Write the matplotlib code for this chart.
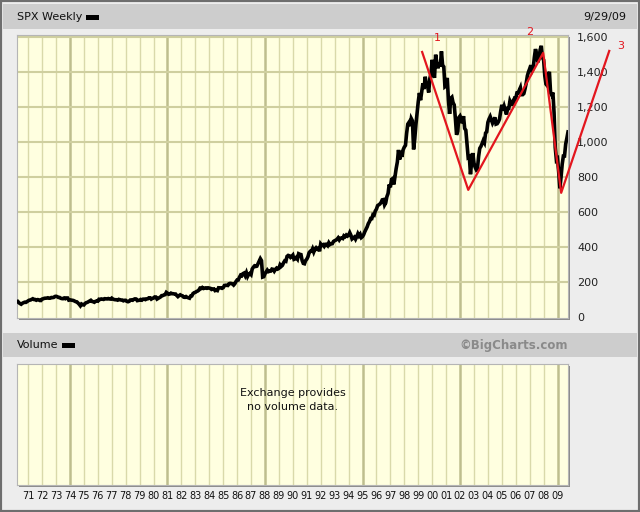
"""
SPX 周线图（BigCharts 风格）重绘
"""

import matplotlib
matplotlib.use('Agg')
import matplotlib.pyplot as plt
from matplotlib.patches import Rectangle
import numpy as np

plt.rcParams['font.family'] = ['DejaVu Sans']

W, H = 640, 512

# S&P 500 月末收盘 1970-01 .. 2009-09
spx_close = [
    85.0, 89.5, 89.6, 81.5, 76.5, 72.7, 78.0, 81.5, 84.2, 83.3, 87.2, 92.2,          # 1970
    95.9, 96.8, 100.3, 103.9, 99.6, 99.7, 95.6, 99.0, 98.3, 94.2, 94.0, 102.1,       # 1971
    103.9, 106.6, 107.2, 107.7, 109.5, 107.1, 107.4, 111.1, 110.5, 111.6, 116.7, 118.1,  # 1972
    116.0, 111.7, 111.5, 107.0, 105.0, 104.3, 108.2, 104.3, 108.4, 108.3, 96.0, 97.6,    # 1973
    96.6, 96.2, 94.0, 90.3, 87.3, 86.0, 79.3, 72.2, 63.5, 73.9, 70.0, 68.6,          # 1974
    77.0, 81.6, 83.4, 87.3, 91.2, 95.2, 88.8, 86.9, 83.9, 89.0, 91.2, 90.2,          # 1975
    100.9, 99.7, 102.8, 101.6, 100.2, 104.3, 103.4, 102.9, 105.2, 102.9, 102.1, 107.5,   # 1976
    102.0, 99.8, 98.4, 98.4, 96.1, 100.5, 98.9, 96.8, 96.5, 92.3, 94.8, 95.1,        # 1977
    89.3, 87.0, 89.2, 96.8, 97.3, 95.5, 100.7, 103.3, 102.5, 93.2, 94.7, 96.1,       # 1978
    99.9, 96.3, 101.6, 101.8, 99.1, 102.9, 103.8, 109.3, 109.3, 101.8, 106.2, 107.9,     # 1979
    114.2, 113.7, 102.1, 106.3, 111.2, 114.2, 121.7, 122.4, 125.5, 127.5, 140.5, 135.8,  # 1980
    129.6, 131.3, 136.0, 132.8, 132.6, 131.2, 130.9, 122.8, 116.2, 121.9, 126.4, 122.6,  # 1981
    120.4, 113.1, 112.0, 116.4, 111.9, 109.6, 107.1, 119.5, 120.4, 133.7, 138.5, 140.6,  # 1982
    145.3, 148.1, 153.0, 164.4, 162.4, 168.1, 162.6, 164.4, 166.1, 163.6, 166.4, 164.9,  # 1983
    163.4, 157.1, 159.2, 160.1, 150.6, 153.2, 150.7, 166.7, 166.1, 166.1, 163.6, 167.2,  # 1984
    179.6, 181.2, 180.7, 179.8, 189.6, 191.9, 190.9, 188.6, 182.1, 189.8, 202.2, 211.3,  # 1985
    211.8, 226.9, 238.9, 235.5, 247.4, 250.8, 236.1, 252.9, 231.3, 244.0, 249.2, 242.2,  # 1986
    274.1, 284.2, 291.7, 288.4, 290.1, 304.0, 318.7, 333.0, 321.8, 228.0, 230.3, 247.1,  # 1987
    257.1, 267.8, 258.9, 261.3, 262.2, 273.5, 272.0, 261.5, 271.9, 279.0, 273.7, 277.7,  # 1988
    297.5, 288.9, 294.9, 309.6, 320.5, 318.0, 346.1, 351.5, 349.2, 340.4, 346.0, 353.4,  # 1989
    329.1, 331.9, 339.9, 330.8, 361.2, 358.0, 356.2, 322.6, 306.1, 304.0, 322.2, 330.2,  # 1990
    343.9, 367.1, 375.2, 375.3, 389.8, 371.2, 387.8, 395.4, 387.9, 392.5, 375.2, 417.1,  # 1991
    408.8, 412.7, 403.7, 415.0, 415.4, 408.1, 424.2, 414.0, 417.8, 418.7, 431.4, 435.7,  # 1992
    438.8, 443.4, 451.7, 440.2, 450.2, 450.5, 448.1, 463.6, 458.9, 467.8, 461.8, 466.5,  # 1993
    481.6, 467.1, 445.8, 450.9, 456.5, 444.3, 458.3, 475.5, 462.7, 472.4, 453.7, 459.3,  # 1994
    470.4, 487.4, 500.7, 514.7, 533.4, 544.8, 562.1, 561.9, 584.4, 581.5, 605.4, 615.9,  # 1995
    636.0, 640.4, 645.5, 654.2, 669.1, 670.6, 640.0, 652.0, 687.3, 705.3, 757.0, 740.7,  # 1996
    786.2, 790.8, 757.1, 801.3, 848.3, 885.1, 954.3, 899.5, 947.3, 914.6, 955.4, 970.4,  # 1997
    980.3, 1049.3, 1101.8, 1111.8, 1090.8, 1133.8, 1120.7, 957.3, 1017.0, 1098.7, 1163.6, 1229.2,  # 1998
    1279.6, 1238.3, 1286.4, 1335.2, 1301.8, 1372.7, 1328.7, 1320.4, 1282.7, 1362.9, 1388.9, 1469.3,  # 1999
    1394.5, 1366.4, 1498.6, 1452.4, 1420.6, 1454.6, 1430.8, 1517.7, 1436.5, 1429.4, 1315.2, 1320.3,  # 2000
    1366.0, 1239.9, 1160.3, 1249.5, 1255.8, 1224.4, 1211.2, 1133.6, 1040.9, 1059.8, 1139.5, 1148.1,  # 2001
    1130.2, 1106.7, 1147.4, 1076.9, 1067.1, 989.8, 911.6, 916.1, 815.3, 885.8, 936.3, 879.8,        # 2002
    855.7, 841.2, 848.2, 916.9, 963.6, 974.5, 990.3, 1008.0, 996.0, 1050.7, 1058.2, 1111.9,         # 2003
    1131.1, 1144.9, 1126.2, 1107.3, 1120.7, 1140.8, 1101.7, 1104.2, 1114.6, 1130.2, 1173.8, 1211.9,  # 2004
    1181.3, 1203.6, 1180.6, 1156.9, 1191.5, 1191.3, 1234.2, 1220.3, 1228.8, 1207.0, 1249.5, 1248.3,  # 2005
    1280.1, 1280.7, 1294.9, 1310.6, 1270.1, 1270.2, 1276.7, 1303.8, 1335.9, 1377.9, 1400.6, 1418.3,  # 2006
    1438.2, 1406.8, 1420.9, 1482.4, 1530.6, 1503.4, 1455.3, 1474.0, 1526.8, 1549.4, 1481.1, 1468.4,  # 2007
    1378.6, 1330.6, 1322.7, 1385.6, 1400.4, 1280.0, 1267.4, 1282.8, 1166.4, 968.8, 896.2, 903.3,     # 2008
    825.9, 735.1, 797.9, 872.8, 919.1, 919.3, 987.5, 1020.6, 1057.1,                                 # 2009
]
start_year = 1970

years = list(range(1971, 2010))
year_labels = ['71', '72', '73', '74', '75', '76', '77', '78', '79', '80',
               '81', '82', '83', '84', '85', '86', '87', '88', '89', '90',
               '91', '92', '93', '94', '95', '96', '97', '98', '99', '00',
               '01', '02', '03', '04', '05', '06', '07', '08', '09']
major_years = [1974, 1981, 1988, 1995, 2002, 2009]

price_ticks = [0, 200, 400, 600, 800, 1000, 1200, 1400, 1600]
price_labels = ['0', '200', '400', '600', '800', '1,000', '1,200', '1,400', '1,600']

# 红色波浪线
wave_years = [1999.28, 2002.59, 2007.97, 2009.26, 2012.71]
wave_values = [1514, 726, 1509, 709, 1520]
wave_label_years = [2000.4, 2007.0, 2013.5]
wave_label_values = [1594, 1629, 1549]
wave_labels = ['1', '2', '3']


def box(x0, y0, x1, y1):
    # 像素坐标（左上原点）-> figure 坐标
    return [x0 / W, 1 - y1 / H, (x1 - x0) / W, (y1 - y0) / H]


def rect(x0, y0, x1, y1, **kw):
    l, b, w, h = box(x0, y0, x1, y1)
    fig.add_artist(Rectangle((l, b), w, h, transform=fig.transFigure, **kw))


fig = plt.figure(figsize=(W / 100, H / 100), dpi=100)
fig.patch.set_facecolor('#EDEDED')

# 标题栏
rect(3, 4, 637, 29, facecolor='#CDCDCD', edgecolor='none', zorder=0)
rect(3, 333, 637, 357, facecolor='#CDCDCD', edgecolor='none', zorder=0)
# 阴影
rect(19, 37, 570, 320, facecolor='#8C8C8C', edgecolor='none', zorder=0)
rect(19, 366, 570, 487, facecolor='#8C8C8C', edgecolor='none', zorder=0)
# 外框
rect(0, 0, 640, 512, fill=False, edgecolor='#6E6E6E', linewidth=3, zorder=5)

fig.text(17 / W, 1 - 17 / H, 'SPX Weekly', fontsize=8, va='center', color='#111111')
rect(86, 15, 99, 20, facecolor='black', edgecolor='none', zorder=2)
fig.text(626 / W, 1 - 17 / H, '9/29/09', fontsize=8, va='center', ha='right', color='#111111')
fig.text(17 / W, 1 - 345 / H, 'Volume', fontsize=8, va='center', color='#111111')
rect(62, 343, 75, 348, facecolor='black', edgecolor='none', zorder=2)
fig.text(568 / W, 1 - 345 / H, '©BigCharts.com', fontsize=8.5, va='center', ha='right',
         color='#8A8A8A', fontweight='bold')

plot_bg = '#FFFFE0'
grid_c = '#D9D9AA'
major_c = '#BEBE8E'

# 主图
ax = fig.add_axes(box(17, 35, 568, 318))
ax.set_facecolor(plot_bg)
for y in years:
    if y in major_years:
        ax.axvline(y, color=major_c, lw=1.8, zorder=1)
    else:
        ax.axvline(y, color=grid_c, lw=1, zorder=1)
for t in price_ticks[1:]:
    ax.axhline(t, color='#CFCF9F', lw=1.5, zorder=1)

x = start_year + (np.arange(len(spx_close)) + 1) / 12.0
ax.plot(x, spx_close, color='black', lw=2.6, solid_joinstyle='miter', zorder=3)

ax.plot(wave_years, wave_values, color='#E3161E', lw=1.6, clip_on=False, zorder=4)
for wx, wy, lab in zip(wave_label_years, wave_label_values, wave_labels):
    ax.text(wx, wy, lab, color='#E3161E', fontsize=8, ha='center', va='center',
            clip_on=False, zorder=4)

ax.set_xlim(1970.2, 2009.75)
ax.set_ylim(-6, 1611)
ax.set_xticks([])
ax.yaxis.tick_right()
ax.set_yticks(price_ticks)
ax.set_yticklabels(price_labels)
ax.tick_params(axis='y', length=0, pad=6.5, labelsize=8, colors='#222222')
for s in ax.spines.values():
    s.set_color('#B5B5B5')
    s.set_linewidth(0.8)

# 成交量面板
vax = fig.add_axes(box(17, 364, 568, 485))
vax.set_facecolor(plot_bg)
for y in years:
    if y in major_years:
        vax.axvline(y, color=major_c, lw=1.8, zorder=1)
    else:
        vax.axvline(y, color=grid_c, lw=1, zorder=1)
vax.set_xlim(1970.2, 2009.75)
vax.set_ylim(0, 1)
vax.set_yticks([])
vax.set_xticks(years)
vax.set_xticklabels(year_labels)
vax.tick_params(axis='x', length=0, pad=4, labelsize=7, colors='#111111')
for s in vax.spines.values():
    s.set_color('#B5B5B5')
    s.set_linewidth(0.8)
vax.text(0.5, 0.70, 'Exchange provides\nno volume data.', transform=vax.transAxes,
         ha='center', va='center', fontsize=8, color='#111111', linespacing=1.5)

plt.savefig('out.png', dpi=100, facecolor=fig.get_facecolor())
plt.close()
